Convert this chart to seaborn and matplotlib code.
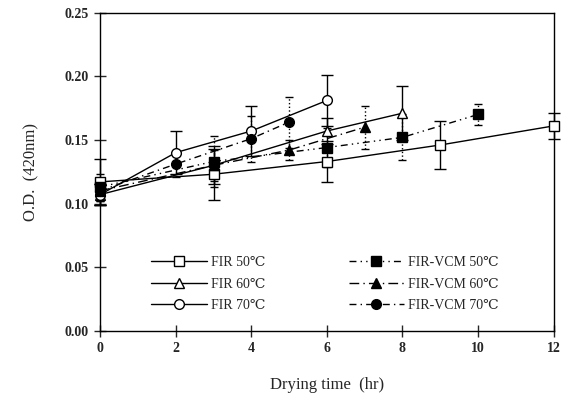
import numpy as np
import pandas as pd
import matplotlib
matplotlib.use("Agg")
import matplotlib.pyplot as plt
import seaborn as sns

# === DATA ===
fir50_x = [0, 3, 6, 9, 12]
fir50_y = [0.117, 0.123, 0.133, 0.146, 0.161]
fir50_err = [0.018, 0.020, 0.016, 0.019, 0.010]

fir60_x = [0, 3, 6, 8]
fir60_y = [0.107, 0.130, 0.157, 0.171]
fir60_err = [0.008, 0.015, 0.010, 0.021]

fir70_x = [0, 2, 4, 6]
fir70_y = [0.107, 0.140, 0.157, 0.181]
fir70_err = [0.008, 0.017, 0.020, 0.020]

vcm50_x = [0, 3, 6, 8, 10]
vcm50_y = [0.113, 0.133, 0.144, 0.152, 0.170]
vcm50_err = [0.010, 0.020, 0.015, 0.018, 0.008]

vcm60_x = [0, 3, 5, 7]
vcm60_y = [0.110, 0.130, 0.142, 0.160]
vcm60_err = [0.008, 0.012, 0.008, 0.017]

vcm70_x = [0, 2, 4, 5]
vcm70_y = [0.110, 0.131, 0.151, 0.164]
vcm70_err = [0.008, 0.010, 0.018, 0.020]

labels = ["FIR 50\u2103", "FIR 60\u2103", "FIR 70\u2103",
          "FIR-VCM 50\u2103", "FIR-VCM 60\u2103", "FIR-VCM 70\u2103"]
x_ticks = [0, 2, 4, 6, 8, 10, 12]
y_ticks = [0.00, 0.05, 0.10, 0.15, 0.20, 0.25]

# === STYLE ===
sns.set_style("white")
plt.rcParams['font.family'] = ['Liberation Serif', 'DejaVu Serif', 'DejaVu Sans']
plt.rcParams['font.size'] = 10

fig = plt.figure(figsize=(5.69, 3.97), dpi=100)
ax = fig.add_axes([0.176, 0.167, 0.797, 0.801])

series = [
    (fir50_x, fir50_y, fir50_err, 's', 'white', '-', labels[0]),
    (fir60_x, fir60_y, fir60_err, '^', 'white', '-', labels[1]),
    (fir70_x, fir70_y, fir70_err, 'o', 'white', '-', labels[2]),
    (vcm50_x, vcm50_y, vcm50_err, 's', 'black', (0, (5, 3, 1, 3, 1, 3)), labels[3]),
    (vcm60_x, vcm60_y, vcm60_err, '^', 'black', (0, (7, 3, 1, 3)), labels[4]),
    (vcm70_x, vcm70_y, vcm70_err, 'o', 'black', (0, (5, 3, 1, 3)), labels[5]),
]

for xs, ys, errs, mk, fc, ls, lab in series:
    df = pd.DataFrame({"t": xs, "od": ys})
    filled = fc == 'black'
    eb = ax.errorbar(xs, ys, yerr=errs, fmt='none', ecolor='black',
                     elinewidth=1.0, capsize=4 if not filled else 3,
                     zorder=2)
    for c in eb.lines[2]:
        c.set_clip_on(False)
        if filled:
            c.set_linestyle(':')
    for c in eb.lines[1]:
        c.set_clip_on(False)
    sns.lineplot(data=df, x="t", y="od", ax=ax, color='black', lw=1.0,
                 linestyle=ls, marker=mk, markersize=7, markerfacecolor=fc,
                 markeredgecolor='black', markeredgewidth=1.0, label=lab,
                 zorder=3, clip_on=False)

ax.set_xlim(0, 12)
ax.set_ylim(0, 0.25)
ax.set_xticks(x_ticks)
ax.set_yticks(y_ticks)
ax.set_xticklabels([str(v) for v in x_ticks], fontsize=10, fontweight='bold')
ax.set_yticklabels([f"{v:.2f}" for v in y_ticks], fontsize=10, fontweight='bold')
ax.tick_params(axis='both', direction='inout', length=8, width=1.0,
               bottom=True, left=True, top=False, right=False, pad=4)
for sp in ax.spines.values():
    sp.set_color('black')
    sp.set_linewidth(1.0)

ax.set_xlabel("Drying time  (hr)", fontsize=12, labelpad=16)
ax.set_ylabel("O.D.  (420nm)", fontsize=12, labelpad=18)

ax.legend(ncol=2, frameon=False, loc='lower left', bbox_to_anchor=(0.085, 0.02),
          handlelength=4.0, columnspacing=6.0, labelspacing=0.6,
          handletextpad=0.3, fontsize=10)

plt.savefig("out.png", dpi=100)
